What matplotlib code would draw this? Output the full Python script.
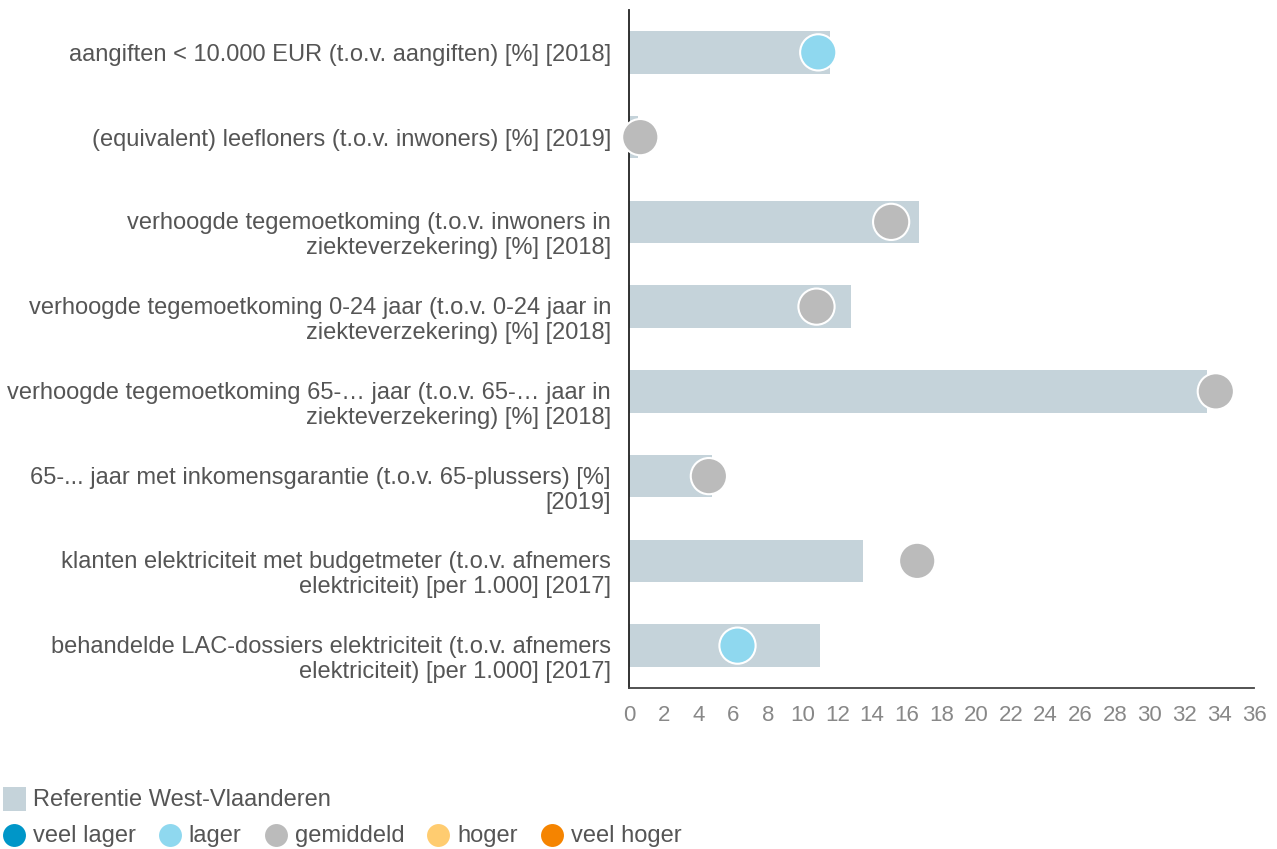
import matplotlib.pyplot as plt
import matplotlib.transforms as mtransforms

plt.rcParams['font.family'] = ['Liberation Sans', 'DejaVu Sans']

labels = [
    'aangiften < 10.000 EUR (t.o.v. aangiften) [%] [2018]',
    '(equivalent) leefloners (t.o.v. inwoners) [%] [2019]',
    'verhoogde tegemoetkoming (t.o.v. inwoners in\nziekteverzekering) [%] [2018]',
    'verhoogde tegemoetkoming 0-24 jaar (t.o.v. 0-24 jaar in\nziekteverzekering) [%] [2018]',
    'verhoogde tegemoetkoming 65-… jaar (t.o.v. 65-… jaar in\nziekteverzekering) [%] [2018]',
    '65-... jaar met inkomensgarantie (t.o.v. 65-plussers) [%]\n[2019]',
    'klanten elektriciteit met budgetmeter (t.o.v. afnemers\nelektriciteit) [per 1.000] [2017]',
    'behandelde LAC-dossiers elektriciteit (t.o.v. afnemers\nelektriciteit) [per 1.000] [2017]',
]
referentie = [11.6, 0.5, 16.7, 12.8, 33.3, 4.8, 13.5, 11.0]
waarde = [10.9, 0.65, 15.1, 10.8, 33.8, 4.6, 16.6, 6.25]
klasse = ['lager', 'gemiddeld', 'gemiddeld', 'gemiddeld', 'gemiddeld', 'gemiddeld', 'gemiddeld', 'lager']

kleuren = {
    'veel lager': '#0096c8',
    'lager': '#8fd8ef',
    'gemiddeld': '#bbbbbb',
    'hoger': '#ffcc70',
    'veel hoger': '#f58400',
}
bar_kleur = '#c5d3da'
tekst_kleur = '#555555'

W, H = 1277, 849
fig = plt.figure(figsize=(W / 100, H / 100), dpi=100)
ax = fig.add_axes([629 / W, 1 - 688 / H, (1254 - 629) / W, (688 - 10) / H])

y = list(range(len(labels)))
ax.barh(y, referentie, height=0.5, color=bar_kleur, zorder=1)
ax.scatter(waarde, y, s=680, c=[kleuren[k] for k in klasse],
           edgecolors='white', linewidths=1.5, zorder=3, clip_on=False)

ax.set_ylim(7.5, -0.5)
ax.set_xlim(0, 36)
ax.set_xticks(range(0, 37, 2))
ax.set_yticks(y)
ax.set_yticklabels(labels, fontsize=17, color=tekst_kleur, linespacing=1.18)
ax.tick_params(axis='y', length=0, pad=13)
ax.tick_params(axis='x', length=0, labelsize=16, labelcolor='#888888', pad=12.5)

# labels met twee regels: eerste regel op hoogte van de balk
omlaag = mtransforms.ScaledTranslation(0, -0.10, fig.dpi_scale_trans)
for lab in ax.get_yticklabels():
    if '\n' in lab.get_text():
        lab.set_transform(lab.get_transform() + omlaag)

for s in ['top', 'right']:
    ax.spines[s].set_visible(False)
ax.spines['left'].set_color('#222222')
ax.spines['bottom'].set_color('#444444')
ax.spines['left'].set_linewidth(1.3)
ax.spines['bottom'].set_linewidth(1.3)

# legenda, in pixelcoordinaten opgebouwd
lax = fig.add_axes([0, 0, 1, 1])
lax.set_xlim(0, W)
lax.set_ylim(H, 0)
lax.axis('off')
fig.canvas.draw()
renderer = fig.canvas.get_renderer()

lax.add_patch(plt.Rectangle((3, 787), 23, 24, color=bar_kleur, lw=0))
lax.text(33, 800, 'Referentie West-Vlaanderen', fontsize=17, color=tekst_kleur,
         va='center', ha='left')

x = 3
for naam, kleur in kleuren.items():
    lax.plot([x + 11], [835], marker='o', markersize=16.5, color=kleur,
             markeredgecolor='none', linestyle='none')
    t = lax.text(x + 30, 836, naam, fontsize=17, color=tekst_kleur,
                 va='center', ha='left')
    breedte = t.get_window_extent(renderer=renderer).width
    x = x + 30 + breedte + 23

fig.savefig('out.png', dpi=100)
